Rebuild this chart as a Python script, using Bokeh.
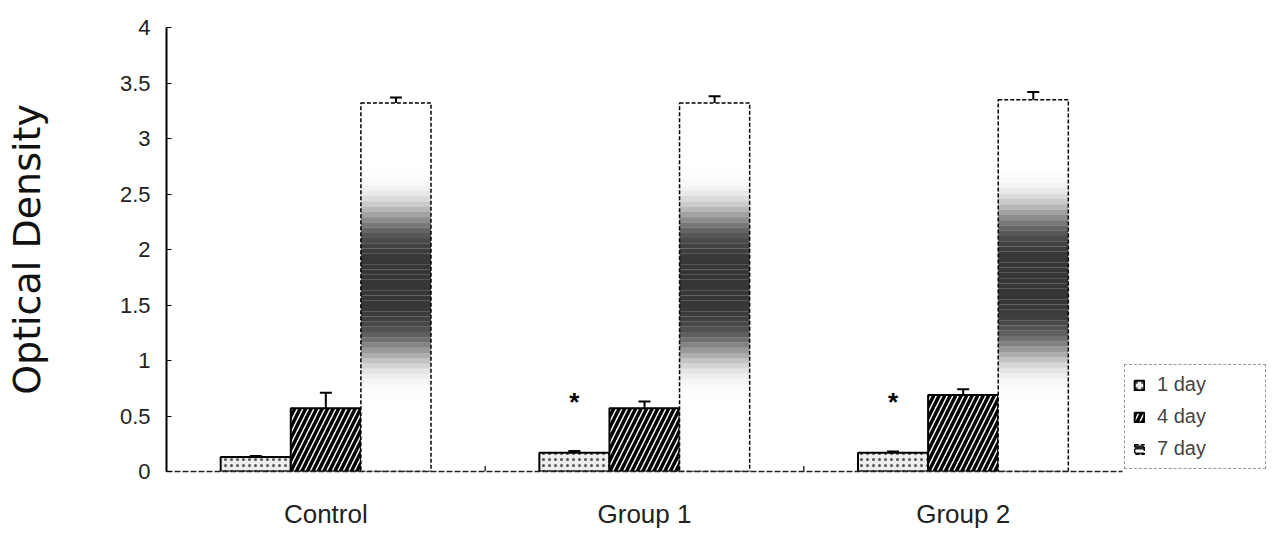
from bokeh.plotting import figure
from bokeh.models import (ColumnDataSource, FactorRange, Range1d, Whisker, Legend,
                          LegendItem, TeeHead, FixedTicker)
from bokeh.transform import dodge
from bokeh.core.properties import value
from bokeh.embed import file_html
from bokeh.resources import INLINE
import numpy as np

# ---- data ----
groups = ["Control", "Group 1", "Group 2"]
series = ["1 day", "4 day", "7 day"]
day1 = [0.13, 0.17, 0.17]
day1_err = [0.01, 0.015, 0.01]
day4 = [0.57, 0.57, 0.69]
day4_err = [0.14, 0.06, 0.05]
day7 = [3.32, 3.32, 3.35]
day7_err = [0.05, 0.06, 0.07]
significant = [False, True, True]
star_level = [0.63, 0.63, 0.63]
y_ticks = [0, 0.5, 1, 1.5, 2, 2.5, 3, 3.5, 4]

FONT = "Liberation Sans"
OFF = 0.22
W = 0.22

src = ColumnDataSource(dict(
    x=groups, d1=day1, d4=day4, d7=day7,
    d1u=[v + e for v, e in zip(day1, day1_err)], d1l=[v - e for v, e in zip(day1, day1_err)],
    d4u=[v + e for v, e in zip(day4, day4_err)], d4l=[v - e for v, e in zip(day4, day4_err)],
    d7u=[v + e for v, e in zip(day7, day7_err)], d7l=[v - e for v, e in zip(day7, day7_err)],
))

p = figure(x_range=FactorRange(*groups), y_range=Range1d(0, 4),
           frame_width=956, frame_height=444, output_backend="svg", toolbar_location=None,
           min_border_left=166, min_border_right=150, min_border_top=27, min_border_bottom=58)
p.outline_line_color = None
p.xgrid.grid_line_color = None
p.ygrid.grid_line_color = None
p.background_fill_color = "white"
p.border_fill_color = "white"

# 1 day bars: light stipple
r1 = p.vbar(x=dodge("x", -OFF, range=p.x_range), top="d1", width=W, source=src,
            fill_color="#ededed", line_color="black", line_width=2,
            hatch_pattern=".", hatch_color="#555555", hatch_scale=6, hatch_weight=1)
# 4 day bars: diagonal hatch
r4 = p.vbar(x=dodge("x", 0, range=p.x_range), top="d4", width=W, source=src,
            fill_color="white", line_color="black", line_width=2,
            hatch_pattern="/", hatch_color="black", hatch_scale=11, hatch_weight=3.5)

# 7 day bars: vertical dark band (gradient) drawn as thin slices of each bar
n = 48
f0 = np.linspace(0.18, 0.86, n + 1)
fm = 0.5 * (f0[:-1] + f0[1:])
alpha = 0.88 * np.exp(-((fm - 0.51) / 0.2) ** 4)
bx, bb, bt, ba = [], [], [], []
for g, v in zip(groups, day7):
    for k in range(n):
        bx.append(g); bb.append(v * f0[k]); bt.append(v * f0[k + 1]); ba.append(alpha[k])
band_src = ColumnDataSource(dict(x=bx, bottom=bb, top=bt, a=ba))
p.vbar(x=dodge("x", OFF, range=p.x_range), top="d7", width=W, source=src,
       fill_color="white", line_color=None)
p.vbar(x=dodge("x", OFF, range=p.x_range), bottom="bottom", top="top", width=W,
       source=band_src, fill_color="#1a1a1a", fill_alpha="a", line_color=None)
# legend swatch fill for 7 day: zero-height bars, so nothing shows in the plot
r7key = p.vbar(x=dodge("x", OFF, range=p.x_range), top="d7", bottom="d7", width=W, source=src,
               fill_color="white", line_color=None,
               hatch_pattern="-", hatch_color="#222222", hatch_scale=7, hatch_weight=4)
r7 = p.vbar(x=dodge("x", OFF, range=p.x_range), top="d7", width=W, source=src,
            fill_color=None, line_color="black", line_width=1.5, line_dash="4 2")

# error bars
for off, up, lo in [(-OFF, "d1u", "d1l"), (0, "d4u", "d4l"), (OFF, "d7u", "d7l")]:
    wk = Whisker(base=dodge("x", off, range=p.x_range), upper=up, lower=lo, source=src,
                 line_color="black", line_width=2,
                 upper_head=TeeHead(size=12, line_width=2, line_color="black"),
                 lower_head=TeeHead(size=12, line_width=2, line_color="black"))
    p.add_layout(wk)

# significance stars
star_src = ColumnDataSource(dict(
    x=[g for g, s in zip(groups, significant) if s],
    y=[l for l, s in zip(star_level, significant) if s],
    t=["*" for s in significant if s]))
p.text(x=dodge("x", -OFF, range=p.x_range), y="y", text="t", source=star_src,
       text_font=value(FONT), text_font_size="26px", text_font_style="bold",
       text_align="center", text_baseline="middle", text_color="black")

# small ticks at group boundaries
tick_src = ColumnDataSource(dict(x=groups[:2], y0=[0] * 2, y1=[0.05] * 2))
p.segment(x0=dodge("x", 0.5, range=p.x_range), x1=dodge("x", 0.5, range=p.x_range),
          y0="y0", y1="y1", source=tick_src, line_color="black", line_width=1.2)

# axes
p.yaxis.ticker = FixedTicker(ticks=y_ticks)
p.yaxis.major_label_overrides = {0: "0", 4: "4"}
p.yaxis.major_tick_in = 5
p.yaxis.major_tick_out = 0
p.yaxis.minor_tick_line_color = None
p.yaxis.axis_line_color = "black"
p.yaxis.axis_line_width = 2
p.yaxis.major_label_text_font = FONT
p.yaxis.major_label_text_font_size = "22px"
p.yaxis.major_label_text_color = "#222222"
p.yaxis.major_label_standoff = 16
p.yaxis.axis_label = "Optical Density"
p.yaxis.axis_label_text_font = "DejaVu Sans"
p.yaxis.axis_label_text_font_size = "38px"
p.yaxis.axis_label_text_font_style = "normal"
p.yaxis.axis_label_text_color = "#111111"
p.yaxis.axis_label_standoff = 68

p.xaxis.axis_line_color = "#222222"
p.xaxis.axis_line_width = 1.5
p.xaxis.axis_line_dash = "6 2"
p.xaxis.major_tick_line_color = None
p.xaxis.minor_tick_line_color = None
p.xaxis.major_label_text_font = FONT
p.xaxis.major_label_text_font_size = "26px"
p.xaxis.major_label_text_color = "#222222"
p.xaxis.major_label_standoff = 21

legend = Legend(items=[LegendItem(label=series[0], renderers=[r1]),
                       LegendItem(label=series[1], renderers=[r4]),
                       LegendItem(label=series[2], renderers=[r7key, r7])],
                location="bottom_left", orientation="vertical",
                label_text_font=FONT, label_text_font_size="20px",
                glyph_width=12, glyph_height=12, label_standoff=12, label_width=100,
                spacing=9, padding=8, margin=2,
                border_line_color="#333333", border_line_dash="4 3", border_line_width=1.2,
                background_fill_color="white")
p.add_layout(legend, "right")

open("out.html", "w").write(file_html(p, INLINE))
